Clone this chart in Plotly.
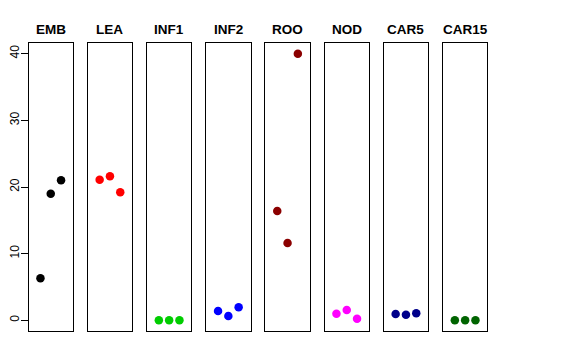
import plotly.graph_objects as go

categories = ["EMB", "LEA", "INF1", "INF2", "ROO", "NOD", "CAR5", "CAR15"]
colors = ["#000000", "#FF0000", "#00CD00", "#0000FF", "#8B0000", "#FF00FF", "#00008B", "#006400"]
positions = [1, 2, 3]
values = {
    "EMB": [6.3, 19.0, 21.0],
    "LEA": [21.1, 21.6, 19.2],
    "INF1": [0.0, 0.0, 0.0],
    "INF2": [1.4, 0.65, 1.95],
    "ROO": [16.4, 11.6, 40.0],
    "NOD": [1.0, 1.55, 0.25],
    "CAR5": [0.95, 0.85, 1.05],
    "CAR15": [0.0, 0.0, 0.0],
}
y_ticks = [0, 10, 20, 30, 40]

OFF = 8  # page body margin
W, H = 576 - OFF, 360 - OFF
left0, step, pw = 28.5 - OFF, 59.2, 44.5
top_px, bot_px = 43 - OFF, 331 - OFF
title_px = 29 - OFF

fig = go.Figure()
for i, cat in enumerate(categories):
    xa = "x" if i == 0 else f"x{i+1}"
    ya = "y" if i == 0 else f"y{i+1}"
    fig.add_trace(go.Scatter(
        x=positions, y=values[cat], mode="markers",
        marker=dict(color=colors[i], size=8.5, line=dict(width=0)),
        xaxis=xa, yaxis=ya, showlegend=False, hoverinfo="skip"))
    l = left0 + i * step
    xkey = "xaxis" if i == 0 else f"xaxis{i+1}"
    ykey = "yaxis" if i == 0 else f"yaxis{i+1}"
    fig.update_layout(**{
        xkey: dict(domain=[l / W, (l + pw) / W], range=[-0.16, 4.16],
                   showgrid=False, zeroline=False, showticklabels=False,
                   ticks="", showline=True, mirror=True, linecolor="black",
                   linewidth=1, anchor=ya, fixedrange=True, automargin=False),
        ykey: dict(domain=[(H - bot_px) / H, (H - top_px) / H], range=[-1.6, 41.6],
                   showgrid=False, zeroline=False,
                   showticklabels=(i == 0), ticks="outside" if i == 0 else "",
                   tickvals=y_ticks, ticklen=7, tickcolor="black", tickwidth=1,
                   tickangle=-90, ticklabelstandoff=-3,
                   tickfont=dict(size=12, color="black", family="Liberation Sans, Arial, sans-serif"),
                   showline=True, mirror=True, linecolor="black", linewidth=1,
                   anchor=xa, fixedrange=True, automargin=False),
    })
    fig.add_annotation(x=(l + pw / 2) / W, y=(H - title_px) / H, xref="paper", yref="paper",
                       text=f"<b>{cat}</b>", showarrow=False, xanchor="center", yanchor="middle",
                       font=dict(size=13.5, color="black", family="Liberation Sans, Arial, sans-serif"))

fig.update_layout(width=W, height=H, margin=dict(l=0, r=0, t=0, b=0, autoexpand=False),
                  paper_bgcolor="white", plot_bgcolor="white")
fig.write_html("out.html")
